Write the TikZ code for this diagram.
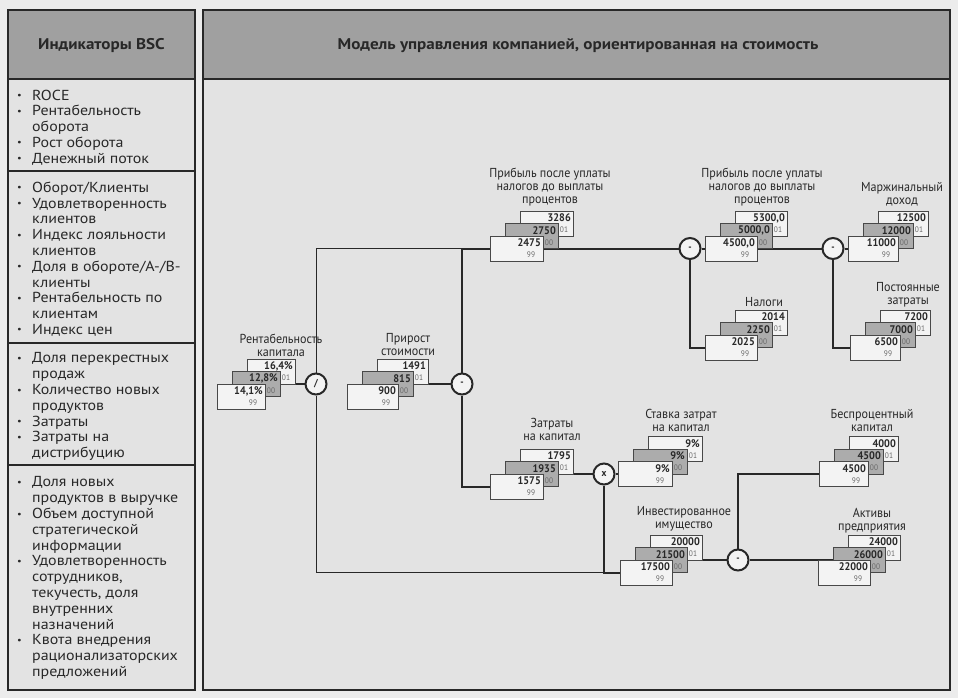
\documentclass[tikz,border=0pt]{standalone}
\usepackage{fontspec}
\setmainfont{PT Sans}
\newfontfamily\cond[FakeStretch=0.93]{PT Sans}
\newfontfamily\wide[FakeStretch=1.1]{PT Sans}
\definecolor{paperc}{RGB}{236,236,236}
\definecolor{boxc}{RGB}{227,227,227}
\definecolor{hdr}{RGB}{160,160,160}
\definecolor{ink}{RGB}{40,40,40}
\definecolor{midcard}{RGB}{172,172,172}
\definecolor{cardw}{RGB}{243,243,243}
\pgfdeclarelayer{paperlayer}
\pgfdeclarelayer{linelayer}
\pgfsetlayers{paperlayer,linelayer,main}
\tikzset{
  card/.style={draw=ink!85, line width=0.7pt, fill=cardw, anchor=north west, minimum height=25pt, inner sep=0pt, outer sep=0pt},
  midc/.style={card, fill=midcard},
  val/.style={font=\cond\bfseries\fontsize{11}{12}\selectfont, text=ink, anchor=east, inner sep=0pt},
  yr/.style={font=\cond\fontsize{8}{9}\selectfont, text=ink!70, anchor=center, inner sep=0pt},
  lbl/.style={font=\cond\fontsize{13}{13}\selectfont, text=ink, align=center, anchor=center, inner sep=0pt},
  op/.style={circle, draw=ink, line width=2pt, fill=cardw, minimum size=21pt, inner sep=0pt, font=\cond\bfseries\fontsize{10}{10}\selectfont, text=ink},
  conn/.style={draw=ink, line width=2pt},
  thinconn/.style={draw=ink, line width=0.9pt},
  frame/.style={draw=ink, line width=1.8pt},
  divline/.style={draw=ink, line width=1.3pt},
  listtxt/.style={anchor=north west, align=left, inner sep=0pt, font=\wide\fontsize{14.5}{15.8}\selectfont, text=ink},
  hdrtxt/.style={inner sep=0pt, font=\wide\bfseries\fontsize{15.5}{17}\selectfont, text=ink}
}
\newcommand{\bul}{\makebox[15pt][l]{\raisebox{0.2ex}{\scalebox{0.65}{\textbullet}}}}
\newcommand{\ind}{\hspace*{15pt}}
% name, x, y (front card top-left), width, back value, middle value, front value
\newcommand{\cstack}[7]{%
  \node[card, minimum width=#4pt] (#1a) at (#2+30,#3-25) {};
  \node[val] at (#2+30+#4-2,#3-25+7) {#5};
  \node[yr] at (#2+30+#4-9,#3-25+19) {01};
  \node[midc, minimum width=#4pt] (#1b) at (#2+15,#3-12.5) {};
  \node[val] at (#2+15+#4-2,#3-12.5+7) {#6};
  \node[yr] at (#2+15+#4-9,#3-12.5+19) {00};
  \node[card, minimum width=#4pt] (#1c) at (#2,#3) {};
  \node[val] at (#2+#4-2,#3+7) {#7};
  \node[yr] at (#2+#4-12,#3+19) {99};
}
\begin{document}
\begin{tikzpicture}[x=1pt,y=-1pt]
\useasboundingbox (0,0) rectangle (958,698);
\begin{pgfonlayer}{paperlayer}
  \fill[paperc] (0,0) rectangle (958,698);
  \fill[boxc] (8,10) rectangle (195,690);
  \fill[boxc] (203,10) rectangle (950,690);
  \fill[hdr] (8,10) rectangle (195,79);
  \fill[hdr] (203,10) rectangle (950,79);
\end{pgfonlayer}
% table frame
\draw[frame] (8,10) rectangle (195,690);
\draw[frame] (203,10) rectangle (950,690);
\draw[frame] (8,79) -- (195,79);
\draw[frame] (203,79) -- (950,79);
\draw[divline] (8,171) -- (195,171);
\draw[divline] (8,343) -- (195,343);
\draw[divline] (8,465) -- (195,465);
\node[hdrtxt] (hleft) at (101.5,46) {Индикаторы BSC};
\node[hdrtxt] (hright) at (578,46) {Модель управления компанией, ориентированная на стоимость};
% left list
\node[listtxt] (sec1) at (17,89.5) {\bul ROCE\\\bul Рентабельность\\\ind оборота\\\bul Рост оборота\\\bul Денежный поток};
\node[listtxt] (sec2) at (17,181.5) {\bul Оборот/Клиенты\\\bul Удовлетворенность\\\ind клиентов\\\bul Индекс лояльности\\\ind клиентов\\\bul Доля в обороте/А-/В-\\\ind клиенты\\\bul Рентабельность по\\\ind клиентам\\\bul Индекс цен};
\node[listtxt] (sec3) at (17,352.5) {\bul Доля перекрестных\\\ind продаж\\\bul Количество новых\\\ind продуктов\\\bul Затраты\\\bul Затраты на\\\ind дистрибуцию};
\node[listtxt] (sec4) at (17,476.5) {\bul Доля новых\\\ind продуктов в выручке\\\bul Объем доступной\\\ind стратегической\\\ind информации\\\bul Удовлетворенность\\\ind сотрудников,\\\ind текучесть, доля\\\ind внутренних\\\ind назначений\\\bul Квота внедрения\\\ind рационализаторских\\\ind предложений};
% value stacks
\cstack{rent}{217}{384}{48}{16,4\%}{12,8\%}{14,1\%}
\cstack{prir}{347}{384}{51}{1491}{815}{900}
\cstack{prib}{490}{236}{53}{3286}{2750}{2475}
\cstack{pribt}{705}{236}{52}{5300,0}{5000,0}{4500,0}
\cstack{marz}{848}{236}{50}{12500}{12000}{11000}
\cstack{nal}{705}{335}{52}{2014}{2250}{2025}
\cstack{post}{850}{335}{50}{7200}{7000}{6500}
\cstack{zat}{490}{474}{53}{1795}{1935}{1575}
\cstack{stav}{618}{461.5}{54}{9\%}{9\%}{9\%}
\cstack{inv}{620}{560}{52}{20000}{21500}{17500}
\cstack{besp}{819}{461.5}{49}{4000}{4500}{4500}
\cstack{akt}{818}{560}{52}{24000}{26000}{22000}
% labels
\node[lbl] (rentl) at (281,345) {Рентабельность\\капитала};
\node[lbl] (prirl) at (408,345) {Прирост\\стоимости};
\node[lbl] (pribl) at (550,187) {Прибыль после уплаты\\налогов до выплаты\\процентов};
\node[lbl] (pribtl) at (762,187) {Прибыль после уплаты\\налогов до выплаты\\процентов};
\node[lbl] (marzl) at (902,194) {Маржинальный\\доход};
\node[lbl] (nall) at (764,302) {Налоги};
\node[lbl] (postl) at (908,295) {Постоянные\\затраты};
\node[lbl] (zatl) at (552,429.5) {Затраты\\на капитал};
\node[lbl] (stavl) at (681,420) {Ставка затрат\\на капитал};
\node[lbl] (invl) at (684,518.5) {Инвестированное\\имущество};
\node[lbl] (bespl) at (872,420.5) {Беспроцентный\\капитал};
\node[lbl] (aktl) at (872,520.5) {Активы\\предприятия};
% operators
\node[op] (opdiv) at (316,384) {/};
\node[op] (opminus) at (462,384) {-};
\node[op] (opA) at (690,248.5) {-};
\node[op] (opB) at (833,248.5) {-};
\node[op] (opX) at (604,474) {x};
\node[op] (opC) at (738,560) {-};
\coordinate (jtop) at (462,248.5);
\coordinate (jbot) at (604,572.5);
% connectors
\begin{pgfonlayer}{linelayer}
  \draw[conn] (rentb) -- (opdiv);
  \draw[conn] (prirb) -- (opminus);
  \draw[thinconn] (opdiv) |- (jtop);
  \draw[thinconn] (opdiv) |- (jbot);
  \draw[conn] (opminus) |- (pribc.west);
  \draw[conn] (opminus) |- (zatc.west);
  \draw[conn] (pribc) -- (opA);
  \draw[conn] (opA) -- (pribtc);
  \draw[conn] (pribtc) -- (opB);
  \draw[conn] (opB) -- (marzc);
  \draw[conn] (opA) |- (nalc.west);
  \draw[conn] (opB) |- (postc.west);
  \draw[conn] (zatb) -- (opX);
  \draw[conn] (opX) -- (stavc);
  \draw[conn] (opX) |- (invc.west);
  \draw[conn] (invb) -- (opC);
  \draw[conn] (opC) -- (aktb);
  \draw[conn] (opC) |- (bespc.west);
\end{pgfonlayer}
\end{tikzpicture}
\end{document}
